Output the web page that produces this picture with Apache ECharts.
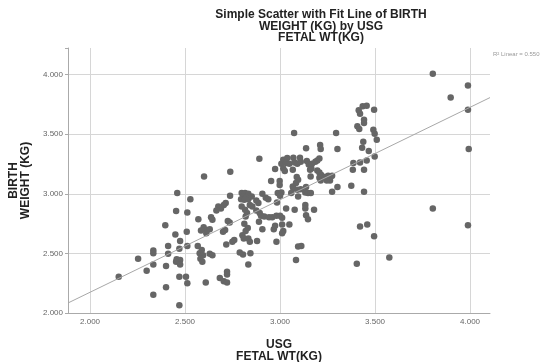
<!DOCTYPE html>
<html><head><meta charset="utf-8">
<script src="https://cdn.jsdelivr.net/npm/echarts@6/dist/echarts.min.js"></script>
<style>html,body{margin:0;padding:0;background:#fff}#c{width:557px;height:362px}</style>
</head><body><div id="c"></div>
<script>
// USG fetal weight (kg) vs birth weight (kg)
const observations = [
[2.459,3.006],[2.528,2.955],[2.453,2.855],[2.512,2.843],[2.396,2.737],[2.509,2.681],[2.449,2.658],[2.474,2.605],[2.411,2.563],[2.470,2.540],[2.512,2.563],[2.333,2.524],[2.333,2.502],[2.253,2.456],[2.411,2.496],[2.456,2.451],[2.474,2.445],[2.453,2.429],[2.474,2.406],[2.333,2.406],[2.400,2.395],[2.298,2.355],[2.151,2.305],[2.470,2.305],[2.505,2.305],[2.512,2.250],[2.400,2.216],[2.333,2.154],[2.470,2.065],
[2.891,3.294],[2.600,3.145],[2.738,3.185],[2.974,3.208],[2.953,3.107],[2.998,3.107],[2.998,3.073],[2.737,2.983],
[2.798,3.006],[2.816,3.006],[2.833,3.000],[2.807,2.977],[2.825,2.972],[2.795,2.955],[2.812,2.950],[2.833,2.955],[2.851,2.977],
[2.907,3.000],[2.925,2.966],[2.875,2.944],[2.886,2.922],[2.988,3.006],[2.984,2.927],[2.938,2.955],
[2.714,2.922],[2.704,2.905],[2.675,2.893],[2.689,2.876],[2.665,2.860],[2.637,2.804],[2.644,2.782],[2.570,2.787],
[2.598,2.720],[2.616,2.697],[2.630,2.703],[2.584,2.692],[2.612,2.670],[2.735,2.759],
[2.816,2.866],[2.826,2.838],[2.798,2.893],[2.819,2.809],[2.841,2.905],[2.854,2.893],[2.875,2.860],[2.893,2.838],
[2.900,2.815],[2.917,2.809],[2.942,2.804],[2.959,2.804],[2.981,2.815],[2.889,2.765],[2.725,2.771],[2.711,2.697],[2.700,2.681],
[2.812,2.748],[2.830,2.714],[2.819,2.687],[2.907,2.703],[2.967,2.703],[2.974,2.731],
[2.759,2.613],[2.749,2.597],[2.717,2.574],[2.802,2.653],[2.809,2.624],[2.833,2.624],[2.841,2.597],[2.879,2.603],[2.981,2.597],
[2.567,2.563],[2.588,2.529],[2.577,2.502],[2.595,2.485],[2.581,2.456],[2.591,2.429],[2.630,2.496],[2.644,2.485],
[2.788,2.507],[2.805,2.490],[2.844,2.502],[2.833,2.406],[2.721,2.345],[2.721,2.322],[2.683,2.294],[2.704,2.266],[2.721,2.255],[2.609,2.255],
[3.074,3.510],[3.295,3.510],[3.302,3.376],[3.211,3.409],[3.214,3.376],[3.137,3.381],
[3.414,3.700],[3.435,3.734],[3.456,3.739],[3.421,3.672],[3.495,3.706],[3.442,3.622],[3.442,3.594],[3.407,3.566],[3.417,3.544],
[3.491,3.538],[3.498,3.504],[3.509,3.454],[3.438,3.437],[3.432,3.387],[3.467,3.359],[3.498,3.313],[3.456,3.280],[3.421,3.263],
[3.386,3.258],[3.383,3.202],[3.442,3.202],[3.375,3.067],[3.302,3.056],[3.274,3.017],[3.442,3.017],
[3.017,3.286],[3.038,3.300],[3.070,3.303],[3.105,3.303],[3.007,3.252],[3.032,3.258],[3.049,3.252],[3.077,3.263],[3.017,3.213],
[3.067,3.202],[3.091,3.252],[3.109,3.269],[3.025,3.191],[3.141,3.275],[3.151,3.246],[3.168,3.252],[3.186,3.269],[3.196,3.280],
[3.207,3.297],[3.165,3.213],[3.158,3.202],[3.196,3.196],[3.207,3.179],[3.217,3.157],[3.207,3.134],[3.214,3.112],[3.238,3.140],
[3.253,3.151],[3.267,3.145],[3.274,3.151],[3.263,3.112],[3.246,3.112],[3.161,3.145],[3.088,3.140],[3.095,3.118],[3.084,3.090],
[3.067,3.061],[3.070,3.045],[3.091,3.034],[3.109,3.039],[3.137,3.056],[3.133,3.011],[3.147,3.006],[3.162,3.006],[3.059,3.006],
[3.095,2.977],[3.007,3.011],[3.000,2.983],[3.032,2.876],[3.077,2.866],[3.133,2.905],[3.133,2.876],[3.179,2.866],[3.137,2.821],
[3.147,2.787],[3.000,2.815],[3.011,2.798],[3.011,2.742],[3.017,2.687],[3.011,2.670],[3.049,2.742],[3.095,2.557],[3.112,2.563],
[3.421,2.725],[3.459,2.742],[3.495,2.643],[3.084,2.445],[3.404,2.414],[3.575,2.465],
[3.804,4.008],[3.989,3.908],[3.898,3.807],[3.989,3.706],[3.993,3.376],[3.804,2.876],[3.989,2.737]
];
const fitLine = [[1.884,2.084],[4.105,3.807]];
const xRange = [1.884, 4.105];
const yRange = [2.0, 4.223];
const tickStep = 0.5;
const titleText = 'Simple Scatter with Fit Line of BIRTH\nWEIGHT (KG) by USG\nFETAL WT(KG)';
const xName = 'USG\nFETAL WT(KG)';
const yName = 'BIRTH\nWEIGHT (KG)';
const r2Text = 'R\u00b2 Linear = 0.550';

const isTick = v => Math.abs(v / tickStep - Math.round(v / tickStep)) < 1e-6;
const fmt = v => isTick(v) ? v.toFixed(3) : '';
const FONT = 'Liberation Sans, Arial, sans-serif';

const chart = echarts.init(document.getElementById('c'), null, {renderer: 'canvas'});
chart.setOption({
  animation: false,
  backgroundColor: '#fff',
  graphic: [
    {type: 'text', silent: true, style: {
      text: titleText, x: 321, y: 9, textAlign: 'center', fill: '#222',
      font: 'bold 12px ' + FONT, lineHeight: 11.5 }},
    {type: 'text', silent: true, style: {
      text: r2Text, x: 493, y: 51, fill: '#999', font: '6px ' + FONT }}
  ],
  grid: {left: 68, right: 67, top: 48, bottom: 49, containLabel: false, outerBoundsMode: 'none'},
  xAxis: {
    type: 'value', min: xRange[0], max: xRange[1], splitNumber: 5,
    minInterval: tickStep, maxInterval: tickStep,
    name: xName, nameLocation: 'middle', nameGap: 26,
    nameTextStyle: {fontFamily: FONT, fontWeight: 'bold', fontSize: 12, color: '#222', lineHeight: 12},
    axisLine: {show: true, lineStyle: {color: '#aaa', width: 1}},
    axisTick: {show: false},
    axisLabel: {formatter: fmt, margin: 5, fontFamily: FONT, fontSize: 8, color: '#666', showMinLabel: true, showMaxLabel: true},
    splitLine: {show: true, showMinLine: false, showMaxLine: false, lineStyle: {color: '#d6d6d6', width: 1}}
  },
  yAxis: {
    type: 'value', min: yRange[0], max: yRange[1], splitNumber: 5,
    minInterval: tickStep, maxInterval: tickStep,
    name: yName, nameLocation: 'middle', nameGap: 34, nameRotate: 90,
    nameTextStyle: {fontFamily: FONT, fontWeight: 'bold', fontSize: 12, color: '#222', lineHeight: 12},
    axisLine: {show: true, lineStyle: {color: '#aaa', width: 1}},
    axisTick: {show: true, length: 3, lineStyle: {color: '#aaa'}},
    axisLabel: {formatter: fmt, margin: 5, fontFamily: FONT, fontSize: 8, color: '#666'},
    splitLine: {show: true, showMinLine: false, showMaxLine: false, lineStyle: {color: '#d6d6d6', width: 1}}
  },
  series: [
    {type: 'scatter', data: observations, symbol: 'circle', symbolSize: 6.5,
     itemStyle: {color: '#666', opacity: 1}, silent: true, z: 2},
    {type: 'line', data: fitLine, showSymbol: false, symbol: 'none',
     lineStyle: {color: '#a8a8a8', width: 1}, silent: true, z: 3}
  ]
});
</script></body></html>
